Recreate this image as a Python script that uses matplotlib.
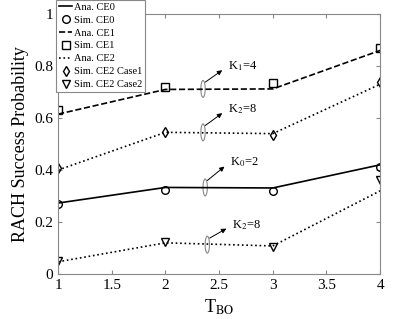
import numpy as np
import matplotlib.pyplot as plt
from matplotlib.patches import Ellipse

plt.rcParams['font.family'] = ['Liberation Serif', 'DejaVu Serif']
plt.rcParams['mathtext.fontset'] = 'stix'

# data
t_bo = [1, 2, 3, 4]
ana_ce0 = [0.273, 0.333, 0.331, 0.42]
sim_ce0 = [0.27, 0.323, 0.32, 0.41]
ana_ce1 = [0.615, 0.71, 0.712, 0.86]
sim_ce1 = [0.63, 0.72, 0.735, 0.87]
ana_ce2_c1 = [0.40, 0.545, 0.54, 0.73]
sim_ce2_c1 = [0.408, 0.545, 0.535, 0.74]
ana_ce2_c2 = [0.047, 0.12, 0.108, 0.32]
sim_ce2_c2 = [0.05, 0.125, 0.105, 0.36]

fig = plt.figure(figsize=(4.15, 3.19), dpi=100)
ax = fig.add_axes([0.14, 0.141, 0.776, 0.815])

ax.plot(t_bo, ana_ce0, 'k-', lw=1.2, label='Ana. CE0')
ax.plot(t_bo, sim_ce0, 'ko', mfc='none', ms=5.5, mew=1, label='Sim. CE0')
ax.plot(t_bo, ana_ce1, 'k--', lw=1.2, label='Ana. CE1')
ax.plot(t_bo, sim_ce1, 'ks', mfc='none', ms=5.5, mew=1, label='Sim. CE1')
ax.plot(t_bo, ana_ce2_c1, 'k:', lw=1.2, label='Ana. CE2')
ax.plot(t_bo, sim_ce2_c1, 'kd', mfc='none', ms=5.5, mew=1, label='Sim. CE2 Case1')
ax.plot(t_bo, ana_ce2_c2, 'k:', lw=1.2)
ax.plot(t_bo, sim_ce2_c2, 'kv', mfc='none', ms=5.5, mew=1, label='Sim. CE2 Case2')

# ellipses + arrows
notes = [(2.35, 0.712, 2.58, 0.80, r'K$_1$=4'),
         (2.35, 0.545, 2.58, 0.635, r'K$_2$=8'),
         (2.37, 0.333, 2.6, 0.43, r'K$_0$=2'),
         (2.39, 0.113, 2.62, 0.19, r'K$_2$=8')]
for ex, ey, tx, ty, s in notes:
    ax.add_patch(Ellipse((ex, ey), 0.04, 0.065, fill=False, ec='#888888', lw=0.8))
    ax.annotate('', xy=(tx - 0.03, ty - 0.01), xytext=(ex, ey + 0.02),
                arrowprops=dict(arrowstyle='-|>', color='k', lw=0.7, mutation_scale=7))
    ax.text(tx, ty, s, fontsize=9, va='center', ha='left')

ax.set_xlim(1, 4)
ax.set_ylim(0, 1)
ax.set_xticks([1, 1.5, 2, 2.5, 3, 3.5, 4])
ax.set_xticklabels(['1', '1.5', '2', '2.5', '3', '3.5', '4'])
ax.set_yticks([0, 0.2, 0.4, 0.6, 0.8, 1])
ax.set_yticklabels(['0', '0.2', '0.4', '0.6', '0.8', '1'])
ax.tick_params(direction='in', labelsize=11, top=True, right=True, length=3, color='#888888')
for sp in ax.spines.values():
    sp.set_color('#888888')
    sp.set_linewidth(0.8)

ax.set_xlabel(r'T$_{\mathrm{BO}}$', fontsize=13)
ax.set_ylabel('RACH Success Probability', fontsize=13)

leg = ax.legend(loc='upper left', bbox_to_anchor=(-0.006, 1.055), fontsize=7.5,
                frameon=True, fancybox=False, edgecolor='#888888', framealpha=1,
                handlelength=1.3, handletextpad=0.2, labelspacing=0.35,
                borderpad=0.25, borderaxespad=0)
leg.get_frame().set_linewidth(0.8)

plt.savefig('out.png', dpi=100)
